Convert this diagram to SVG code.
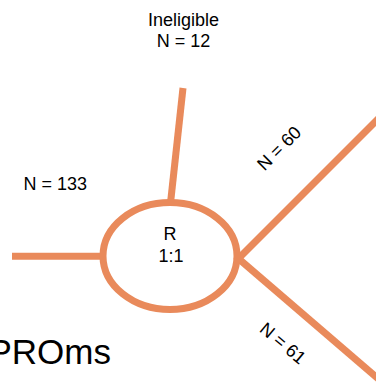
<svg xmlns="http://www.w3.org/2000/svg" width="376" height="386" viewBox="0 0 376 386">
<style>
.ln{stroke:#E98A5B;stroke-width:7;fill:none}
.t{font-family:"Liberation Sans",Arial,sans-serif;font-size:18px;fill:#000}
.c{text-anchor:middle}
</style>
<rect width="376" height="386" fill="#fff"/>
<g id="connectors">
<line class="ln" x1="12" y1="256.3" x2="104" y2="256.3"/>
<line class="ln" x1="183" y1="88" x2="170.5" y2="203"/>
<line class="ln" x1="236" y1="261" x2="400" y2="97"/>
<line class="ln" x1="236" y1="256.5" x2="400" y2="397.5"/>
</g>
<g id="node-R">
<ellipse class="ln" cx="170" cy="256" rx="67" ry="53.5"/>
<text class="t c" x="170" y="240">R</text>
<text class="t c" x="171" y="261.5">1:1</text>
</g>
<g id="node-ineligible">
<text class="t c" x="183.5" y="26">Ineligible</text>
<text class="t c" x="183.5" y="47">N = 12</text>
</g>
<g id="label-n133">
<text class="t" x="23.5" y="190">N = 133</text>
</g>
<g id="label-n60">
<text class="t c" transform="translate(283.5,152.5) rotate(-45)">N = 60</text>
</g>
<g id="label-n61">
<text class="t c" transform="translate(279,348) rotate(40)">N = 61</text>
</g>
<g id="node-proms">
<text class="t" style="font-size:35px;text-anchor:end" x="111" y="364">PROms</text>
</g>
</svg>
